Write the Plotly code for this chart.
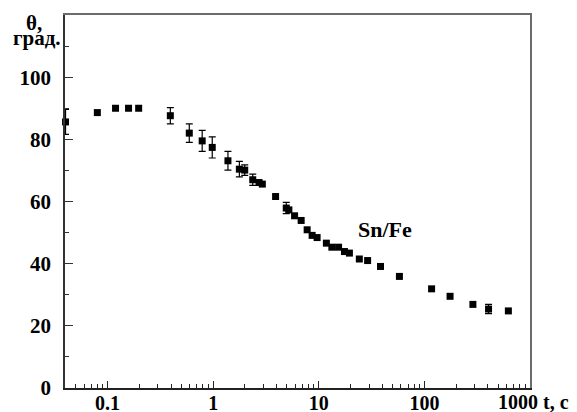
import plotly.graph_objects as go

# time, s
t = [0.04, 0.08, 0.119, 0.158, 0.197, 0.393, 0.594, 0.787, 0.98, 1.38, 1.77, 1.99,
     2.37, 2.72, 2.92, 3.9, 4.92, 5.21, 5.9, 6.81, 7.76, 8.65, 9.64, 11.8, 13.3,
     15.4, 17.5, 19.5, 24.2, 29.0, 38.4, 58.0, 117.0, 175.0, 288.0, 405.0, 624.0]
# contact angle, deg
theta = [85.6, 88.6, 90.0, 90.0, 90.0, 87.6, 82.0, 79.5, 77.4, 73.1, 70.4, 70.1,
         67.0, 66.1, 65.6, 61.6, 57.9, 57.3, 55.4, 53.9, 50.9, 49.1, 48.4, 46.6, 45.3,
         45.3, 43.9, 43.4, 41.5, 41.0, 39.1, 35.9, 31.9, 29.5, 26.9, 25.4, 24.8]
# error (0 = no error bar drawn)
err = [4.0, 0, 0, 0, 0, 2.6, 3.0, 3.4, 3.4, 3.0, 2.5, 1.7,
       1.8, 0, 0, 0, 1.8, 0, 0, 0, 0, 0, 0, 0, 0,
       0, 0, 0, 0, 0, 0, 0, 0, 0, 0, 1.5, 0]

x_tickvals = [0.1, 1, 10, 100]
x_ticktext = ["0.1", "1", "10", "100"]
y_tickvals = [0, 20, 40, 60, 80, 100]
y_ticktext = ["0", "20", "40", "60", "80", "100"]

FONT = "Liberation Serif"
XR = [-1.403, 3.0]
YR = [0, 120]

fig = go.Figure()

t_plain = [a for a, e in zip(t, err) if e == 0]
th_plain = [b for b, e in zip(theta, err) if e == 0]
t_err = [a for a, e in zip(t, err) if e > 0]
th_err = [b for b, e in zip(theta, err) if e > 0]
e_err = [e for e in err if e > 0]

fig.add_trace(go.Scatter(
    x=t_err, y=th_err, mode="markers",
    marker=dict(symbol="square", size=7, color="black", line=dict(width=0)),
    error_y=dict(type="data", array=e_err, visible=True, color="black",
                 thickness=1.2, width=3.5),
    cliponaxis=False, showlegend=False))
fig.add_trace(go.Scatter(
    x=t_plain, y=th_plain, mode="markers",
    marker=dict(symbol="square", size=7, color="black", line=dict(width=0)),
    cliponaxis=False, showlegend=False))
# invisible trace to anchor the gray top/right frame axes
fig.add_trace(go.Scatter(x=[t[0]], y=[theta[0]], xaxis="x2", yaxis="y2",
                         mode="markers", marker=dict(opacity=0), hoverinfo="skip",
                         showlegend=False))

fig.update_layout(
    width=577, height=412,
    margin=dict(l=57, r=55, t=7, b=32, autoexpand=False),
    paper_bgcolor="white", plot_bgcolor="white",
    font=dict(family=FONT, size=20, color="black"),
    xaxis=dict(
        type="log", range=XR, automargin=False,
        showgrid=False, zeroline=False,
        showline=True, linecolor="#222", linewidth=1.5,
        ticks="inside", ticklen=7, tickwidth=1, tickcolor="#222",
        tickvals=x_tickvals, ticktext=x_ticktext,
        tickfont=dict(family=FONT, size=20, weight="bold", color="black"),
        ticklabelstandoff=-4,
        minor=dict(ticks="inside", ticklen=4, tickwidth=1, tickcolor="#222",
                   tickvals=[m * 10 ** k for k in range(-2, 3) for m in range(2, 10)]),
    ),
    yaxis=dict(
        range=YR, automargin=False,
        showgrid=False, zeroline=False,
        showline=True, linecolor="#333", linewidth=1.5,
        ticks="inside", ticklen=8, tickwidth=1, tickcolor="#333",
        tickvals=y_tickvals, ticktext=y_ticktext,
        tickfont=dict(family=FONT, size=21, weight="bold", color="black"),
        ticklabelstandoff=8,
        minor=dict(ticks="inside", ticklen=4, tickwidth=1, tickcolor="#333",
                   tickvals=[10, 30, 50, 70, 90, 110]),
    ),
    xaxis2=dict(type="log", range=XR, overlaying="x", side="top", anchor="y2",
                automargin=False, showgrid=False, zeroline=False,
                showline=True, linecolor="#6b6b6b", linewidth=2,
                ticks="", showticklabels=False),
    yaxis2=dict(range=YR, overlaying="y", side="right", anchor="x2",
                automargin=False, showgrid=False, zeroline=False,
                showline=True, linecolor="#6b6b6b", linewidth=2,
                ticks="", showticklabels=False),
    annotations=[
        dict(text="θ,", xref="paper", yref="paper", x=-0.066, y=0.978,
             xanchor="center", yanchor="middle", showarrow=False,
             font=dict(family=FONT, size=21, weight="bold")),
        dict(text="град.", xref="paper", yref="paper", x=-0.061, y=0.937,
             xanchor="center", yanchor="middle", showarrow=False,
             font=dict(family=FONT, size=21, weight="bold")),
        dict(text="Sn/Fe", xref="paper", yref="paper", x=0.689, y=0.425,
             xanchor="center", yanchor="middle", showarrow=False,
             font=dict(family=FONT, size=22, weight="bold")),
        dict(text="1000 t, c", xref="paper", yref="paper", x=0.927, y=0,
             xanchor="left", yanchor="top", yshift=-1, showarrow=False,
             font=dict(family=FONT, size=20, weight="bold")),
    ],
)

fig.write_html("out.html")
